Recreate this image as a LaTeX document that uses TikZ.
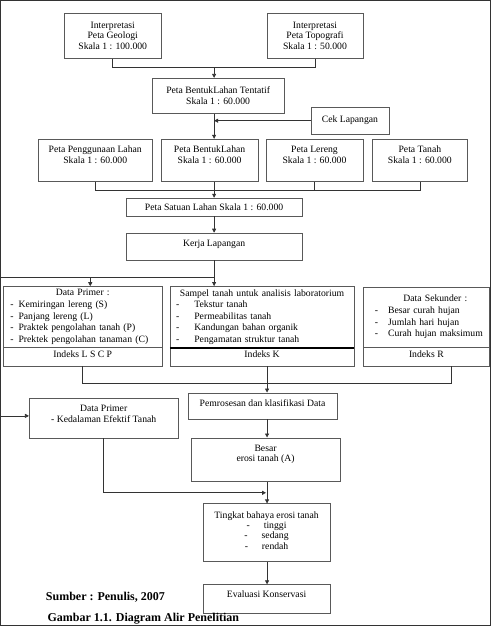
\documentclass[tikz,border=0pt]{standalone}
\usepackage{fontspec}
\setmainfont{Liberation Serif}
\usetikzlibrary{arrows.meta}

\tikzset{
  box/.style={draw=black!65,line width=0.7pt,inner sep=3pt,align=center},
  listbox/.style={box,align=left,font=\fontsize{9.7}{11.6}\selectfont},
  arr/.style={-{Triangle[length=4pt,width=4pt]}},
  conn/.style={draw=black!80,line width=0.7pt}
}

\begin{document}
\begin{tikzpicture}[x=1pt,y=-1pt,font=\fontsize{9.7}{10.4}\selectfont,
      every path/.append style={conn}]
    \useasboundingbox (0,0) rectangle (491,626);

    % interpretasi peta
    \node (geologi) [box,minimum width=97,minimum height=45] at (112.5,35.5)
      {Interpretasi\\Peta Geologi\\Skala 1 : 100.000};
    \node (topografi) [box,minimum width=96,minimum height=45] at (315,35.5)
      {Interpretasi\\Peta Topografi\\Skala 1 : 50.000};
    \node (tentatif) [box,minimum width=132,minimum height=35] at (218,95.5)
      {Peta BentukLahan Tentatif\\Skala 1 : 60.000};
    \node (cek) [box,minimum width=78,minimum height=27,text depth=4pt] at (350,120.5)
      {Cek Lapangan};

    % peta tematik
    \node (guna) [box,minimum width=114,minimum height=42,text depth=11pt] at (95,160)
      {Peta Penggunaan Lahan\\Skala 1 : 60.000};
    \node (bentuk) [box,minimum width=97,minimum height=42,text depth=11pt] at (209.5,160)
      {Peta BentukLahan\\Skala 1 : 60.000};
    \node (lereng) [box,minimum width=97,minimum height=42,text depth=11pt] at (314.5,160)
      {Peta Lereng\\Skala 1 : 60.000};
    \node (tanah) [box,minimum width=96,minimum height=42,text depth=11pt] at (420,160)
      {Peta Tanah\\Skala 1 : 60.000};

    \node (satuan) [box,minimum width=176,minimum height=18] at (214,207)
      {Peta Satuan Lahan Skala 1 : 60.000};
    \node (kerja) [box,minimum width=176,minimum height=27,text depth=6pt] at (214,246.5)
      {Kerja Lapangan};

    % data
    \node (primer) [listbox,text width=153,minimum height=60] at (82.5,317)
      {\centerline{Data Primer :}
       \hspace*{4pt}-\hspace{5pt}Kemiringan lereng (S)\\
       \hspace*{4pt}-\hspace{5pt}Panjang lereng (L)\\
       \hspace*{4pt}-\hspace{5pt}Praktek pengolahan tanah (P)\\
       \hspace*{4pt}-\hspace{5pt}Prektek pengolahan tanaman (C)};
    \node (lscp) [box,minimum width=159,minimum height=19,text depth=5pt] at (82.5,356.5)
      {Indeks L S C P};
    \node (sampel) [listbox,text width=178,minimum height=60] at (262,317)
      {\centerline{Sampel tanah untuk analisis laboratorium}
       \hspace*{3pt}-\hspace{15pt}Tekstur tanah\\
       \hspace*{3pt}-\hspace{15pt}Permeabilitas tanah\\
       \hspace*{3pt}-\hspace{15pt}Kandungan bahan organik\\
       \hspace*{3pt}-\hspace{15pt}Pengamatan struktur tanah};
    \node (indeksk) [box,minimum width=184,minimum height=19,text depth=5pt] at (262,356.5)
      {Indeks K};
    \node (sekunder) [listbox,text width=121,minimum height=60] at (426.5,317)
      {\centerline{\hspace*{18pt}Data Sekunder :}
       \hspace*{9pt}-\hspace{10pt}Besar curah hujan\\
       \hspace*{9pt}-\hspace{10pt}Jumlah hari hujan\\
       \hspace*{9pt}-\hspace{10pt}Curah hujan maksimum\\[11.6pt]};
    \node (indeksr) [box,minimum width=127,minimum height=19,text depth=5pt] at (426.5,356.5)
      {Indeks R};
    \draw[line width=1.6pt,draw=black] (sampel.south west) -- (sampel.south east);

    % pengolahan
    \node (proses) [box,minimum width=149,minimum height=26,text depth=5pt] at (262.5,406)
      {Pemrosesan dan klasifikasi Data};
    \node (besar) [box,minimum width=149,minimum height=44,text depth=13pt] at (265.5,460)
      {Besar\\erosi tanah (A)};
    \node (primerdua) [box,minimum width=149,minimum height=40,text depth=8pt] at (103.5,418)
      {Data Primer\\- Kedalaman Efektif Tanah};
    \node (tingkat) [box,minimum width=127,minimum height=58,text depth=5pt] at (266.5,533)
      {Tingkat bahaya erosi tanah\\
       -\hspace{14pt}tinggi\\
       -\hspace{14pt}sedang\\
       -\hspace{14pt}rendah};
    \node (evaluasi) [box,minimum width=127,minimum height=29,text depth=10pt] at (266.5,599.5)
      {Evaluasi Konservasi};

    \node (sumber) [anchor=west,font=\fontsize{12}{14}\selectfont\bfseries] at (42,598)
      {Sumber : Penulis, 2007};
    \node (gambar) [anchor=base west,font=\fontsize{12}{14}\selectfont\bfseries,inner sep=0pt] at (47,621.5)
      {Gambar 1.1. Diagram Alir Penelitian};

    % connectors
    \coordinate (m1) at (214,67);
    \coordinate (m2) at (214,190);
    \coordinate (m3) at (214,277);
    \coordinate (a1) at (90,277);
    \coordinate (kiri1) at (0,277);
    \coordinate (m4) at (267,383);
    \coordinate (s4) at (451,383);
    \coordinate (kiri2) at (0,416);
    \coordinate (m5) at (267,493);

    \draw (geologi.south) |- (m1) -| (topografi.south);
    \draw[arr] (m1) -- (m1 |- tentatif.north);
    \draw[arr] (m1 |- tentatif.south) -- (m1 |- bentuk.north);
    \draw[arr] (cek.west) -- (cek.west -| m1);
    \draw (guna.south) |- (tanah.south |- m2) -- (tanah.south);
    \draw (lereng.south) -- (lereng.south |- m2);
    \draw[arr] (m1 |- bentuk.south) -- (m1 |- satuan.north);
    \draw[arr] (satuan.south) -- (kerja.north);
    \draw (kerja.south) -- (m3);
    \draw (kiri1) -- (m3);
    \draw[arr] (m3) -- (m3 |- sampel.north);
    \draw[arr] (a1) -- (a1 |- primer.north);
    \draw (lscp.south) |- (s4) -- (s4 |- indeksr.south);
    \draw[arr] (m4 |- indeksk.south) -- (m4 |- proses.north);
    \draw[arr] (m4 |- proses.south) -- (m4 |- besar.north);
    \draw[arr] (kiri2) -- (kiri2 -| primerdua.west);
    \draw[arr] (primerdua.south) |- ([xshift=-1pt]m5);
    \draw[arr] (m4 |- besar.south) -- (m4 |- tingkat.north);
    \draw[arr] (m4 |- tingkat.south) -- (m4 |- evaluasi.north);
\end{tikzpicture}
\end{document}
